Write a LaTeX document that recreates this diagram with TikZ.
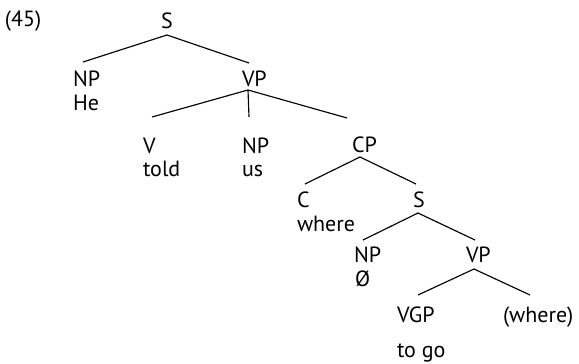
\documentclass[tikz,border=0pt]{standalone}
\usepackage{fontspec}
\setmainfont{PT Sans}
\begin{document}
\begin{tikzpicture}[x=1pt,y=-1pt,
  lbl/.style={anchor=base west,inner sep=0pt,outer sep=0pt,font=\fontsize{22}{25}\selectfont,text=black},
  br/.style={line width=1.15pt,draw=black}]
\useasboundingbox (0,0) rectangle (579,364);
% labels
\node[lbl] (num) at (5,27) {(45)};
\node[lbl] (S1) at (161,28) {S};
\node[lbl] (NPa) at (73,86) {NP};
\node[lbl] (he) at (73,110) {He};
\node[lbl] (VPa) at (242,86) {VP};
\node[lbl] (V) at (143,153) {V};
\node[lbl] (told) at (143,176) {told};
\node[lbl] (NPb) at (242,153) {NP};
\node[lbl] (us) at (242,176) {us};
\node[lbl] (CP) at (352,152) {CP};
\node[lbl] (C) at (297,207) {C};
\node[lbl] (where) at (297,231) {where};
\node[lbl] (S2) at (413,207) {S};
\node[lbl] (NPc) at (354,262) {NP};
\node[lbl] (null) at (355,286) {Ø};
\node[lbl] (VPb) at (466,262) {VP};
\node[lbl] (VGP) at (397,322) {VGP};
\node[lbl] (togo) at (397,357) {to go};
\node[lbl] (wh) at (503,322) {(where)};
% branches
\draw[br] ([shift={(10,-24)}]NPa.base west) -- ([shift={(6,7)}]S1.base west) -- ([shift={(7,-23)}]VPa.base west);
\draw[br] ([shift={(9,-36)}]V.base west) -- ([shift={(6,4)}]VPa.base west) -- ([shift={(-5,-34)}]CP.base west);
\draw[br] ([shift={(6,4)}]VPa.base west) -- ([shift={(7,-36)}]NPb.base west);
\draw[br] ([shift={(8,-23)}]C.base west) -- ([shift={(8,5)}]CP.base west) -- ([shift={(3,-23)}]S2.base west);
\draw[br] ([shift={(9,-22)}]NPc.base west) -- ([shift={(5,6)}]S2.base west) -- ([shift={(9,-22)}]VPb.base west);
\draw[br] ([shift={(21,-27)}]VGP.base west) -- ([shift={(8,7)}]VPb.base west) -- ([shift={(27,-27)}]wh.base west);
\end{tikzpicture}
\end{document}
